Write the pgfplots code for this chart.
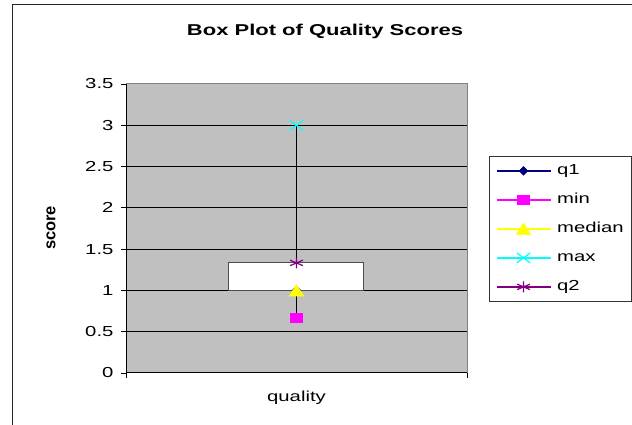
\documentclass[border=0pt]{standalone}
\usepackage{fontspec}
\setmainfont{Liberation Sans}[FakeStretch=1.4]
\newfontfamily\plainsans{Liberation Sans}
\usepackage{pgfplots}
\pgfplotsset{compat=1.18}
\definecolor{plotgray}{HTML}{C0C0C0}
\definecolor{borderg}{HTML}{808080}
\definecolor{navyc}{HTML}{000080}
\definecolor{magc}{HTML}{FF00FF}
\definecolor{yelc}{HTML}{FFFF00}
\definecolor{cyac}{HTML}{00FFFF}
\definecolor{purc}{HTML}{800080}
\begin{document}
\begin{tikzpicture}
\useasboundingbox (0,0) rectangle (632pt,425pt);
\clip (0,0) rectangle (632pt,425pt);
\fill[white] (0,0) rectangle (632pt,425pt);
\draw[black!85, line width=1.2pt] (12.5pt,-20pt) -- (12.5pt,420.3pt) -- (660pt,420.3pt);
\node[font=\bfseries\fontsize{15.7}{18}\selectfont, anchor=base, inner sep=0pt] at (325pt,389.3pt) {Box Plot of Quality Scores};
\begin{axis}[
  at={(126pt,52pt)}, anchor=south west,
  width=341pt, height=289pt, scale only axis,
  xmin=0, xmax=2, ymin=0, ymax=3.5,
  axis lines=left,
  axis line style={-, black, line width=1pt},
  axis background/.style={fill=plotgray, draw=borderg, line width=1pt},
  tick align=outside,
  major tick length=5pt,
  tick style={black, line width=0.8pt},
  ytick={0,0.5,1,1.5,2,2.5,3,3.5},
  extra y ticks={0.5,1,1.5,2,2.5,3},
  extra y tick labels={},
  extra y tick style={grid=major, major grid style={black, line width=0.9pt}},
  yticklabel style={xshift=-4pt},
  xtick={0,2},
  xticklabels={,},
  extra x ticks={1},
  extra x tick labels={quality},
  extra x tick style={tick style={draw=none}, xticklabel style={anchor=base, yshift=-24pt}},
  ticklabel style={font=\fontsize{14.5}{17}\selectfont},
  /pgf/number format/assume math mode=true,
  ylabel={\plainsans\bfseries score},
  ylabel style={at={(axis description cs:-0.2200,0.502)}, anchor=center, font=\fontsize{16.5}{18}\selectfont},
  legend style={at={(axis description cs:1.0645,0.7509)}, anchor=north west,
    draw=black!80, line width=0.8pt, fill=white,
    font=\fontsize{14.5}{17}\selectfont,
    inner xsep=6.5pt, inner ysep=6.25pt, row sep=12.5pt, column sep=4.5pt,
    cells={anchor=west},
    nodes={inner sep=1.5pt, text height=10.5pt, text depth=3pt}},
  legend image code/.code={\draw[mark repeat=2,mark phase=2,#1,line width=1.3pt] plot coordinates {(0pt,0pt)(27pt,0pt)(54pt,0pt)};},
]
\addplot[forget plot, black, line width=1pt] coordinates {(1,0.6667) (1,3)};
\addplot[forget plot, fill=white, draw=black!70, line width=1pt] coordinates {(0.604,1) (1.392,1) (1.392,1.3333) (0.604,1.3333)} -- cycle;
\addplot[color=navyc, draw=navyc, line width=1pt, mark=diamond*, mark size=4.2pt, mark options={xscale=1.35, solid, draw=navyc, fill=navyc, line width=0.8pt}] coordinates {(1,1)};
\addlegendentry{q1}
\addplot[color=magc, draw=magc, line width=1pt, mark=square*, mark size=4.5pt, mark options={xscale=1.35, solid, draw=magc, fill=magc, line width=0.8pt}] coordinates {(1,0.6667)};
\addlegendentry{min}
\addplot[color=yelc, draw=yelc, line width=1pt, mark=triangle*, mark size=7.3pt, mark options={xscale=1.1, yshift=-1.8pt, solid, draw=yelc, fill=yelc, line width=0.8pt}] coordinates {(1,1)};
\addlegendentry{median}
\addplot[color=cyac, draw=cyac, line width=1pt, mark=x, mark size=7pt, mark options={xscale=1.35, solid, line width=1.2pt, draw=cyac}] coordinates {(1,3)};
\addlegendentry{max}
\addplot[color=purc, draw=purc, line width=1pt, mark=asterisk, mark size=5.5pt, mark options={xscale=1.35, solid, line width=1.2pt, draw=purc}] coordinates {(1,1.3333)};
\addlegendentry{q2}
\end{axis}
\end{tikzpicture}
\end{document}
